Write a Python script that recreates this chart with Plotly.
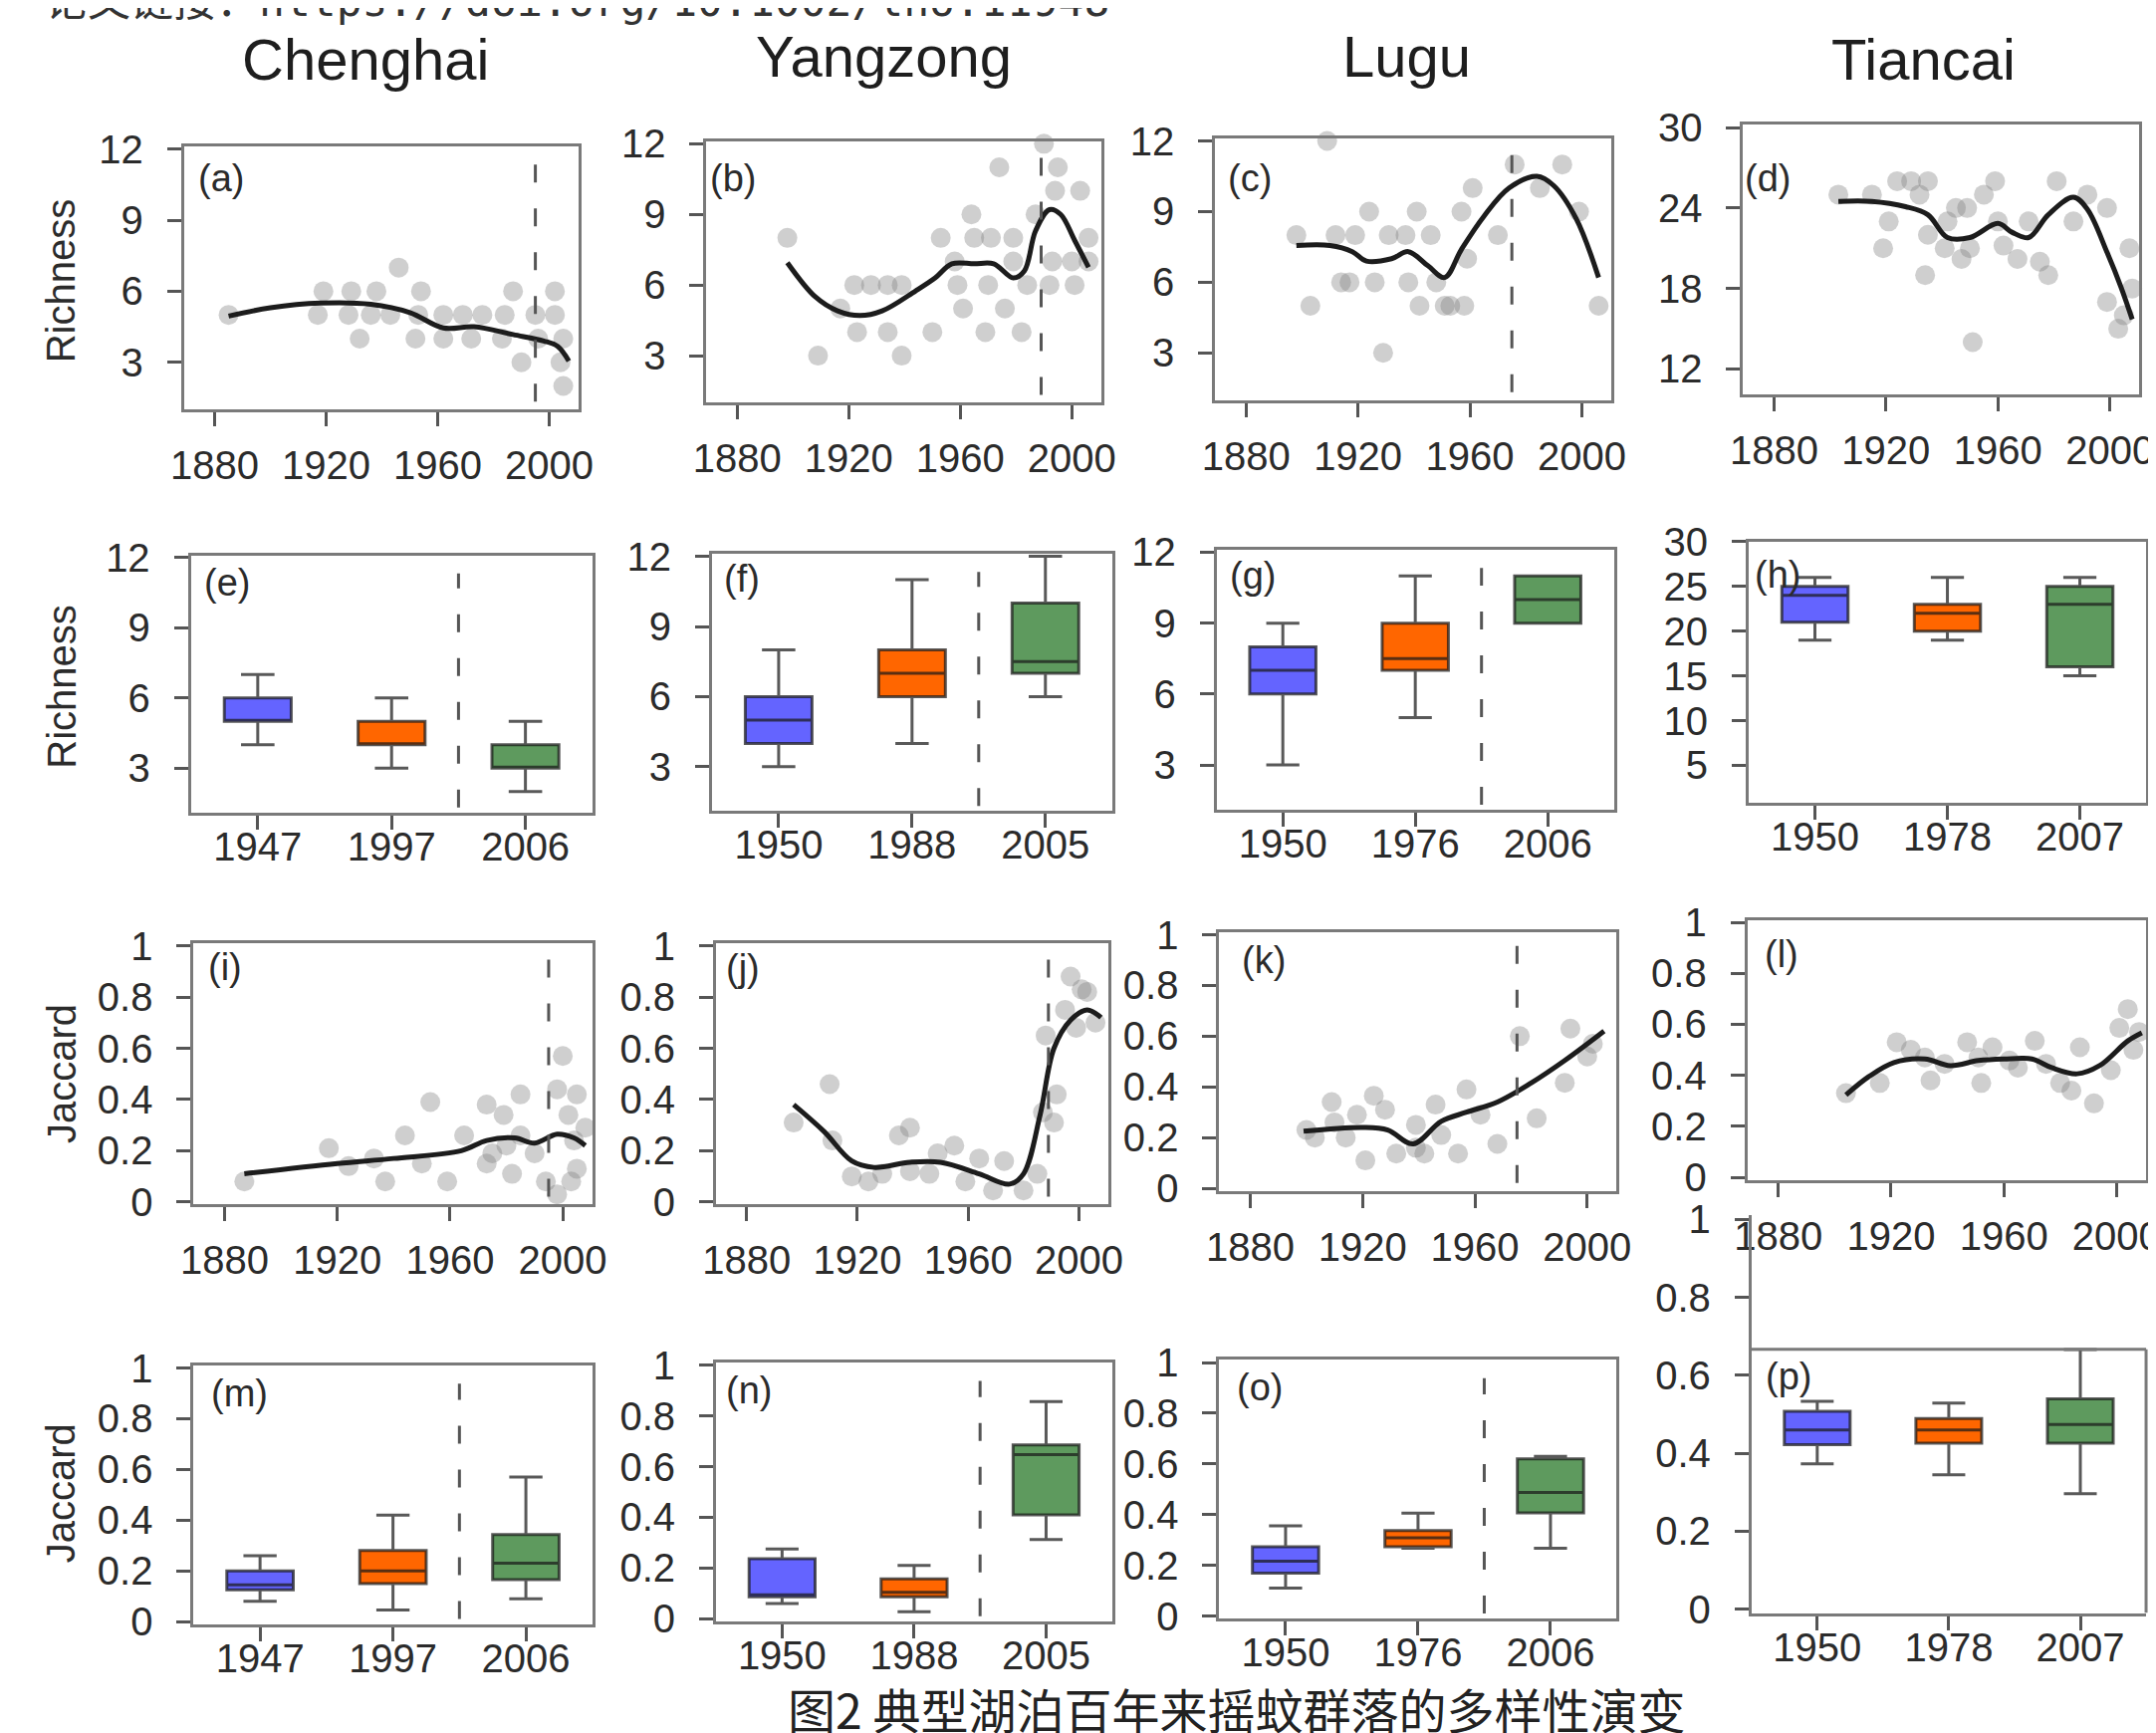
import plotly.graph_objects as go

# ---------------- DATA ----------------
lakes = ["Chenghai", "Yangzong", "Lugu", "Tiancai"]
time_ticks = [1880, 1920, 1960, 2000]
break_year = [1995, 1989, 1975, None]

# Richness through time (points)
a_year = [1885,1917,1919,1928,1929,1932,1936,1938,1943,1946,1952,1953,1954,1962,1962,1969,1972,1976,1983,1984,1987,1990,1995,1996,2002,2002,2004,2005,2005]
a_val  = [5,5,6,5,6,4,5,6,5,7,4,5,6,5,4,5,4,5,4,5,6,3,5,4,6,5,3,4,2]
a_fit_year = [1885,1900,1918,1936,1950,1962,1973,1987,1998,2003,2007]
a_fit      = [4.95,5.3,5.5,5.45,5.1,4.45,4.5,4.17,3.9,3.67,3.05]

b_year = [1898,1909,1917,1922,1923,1928,1934,1934,1939,1939,1950,1953,1958,1959,1961,1964,1965,1969,1970,1971,1974,1976,1979,1979,1982,1984,1987,1990,1992,1993,1994,1995,2000,2001,2003,2006,2006]
b_val  = [8,3,5,6,4,6,6,4,6,3,4,8,7,6,5,9,8,4,6,8,11,5,8,7,4,6,9,12,6,7,10,11,7,6,10,8,7]
b_fit_year = [1898,1908,1916,1924,1932,1944,1951,1957,1965,1972,1979,1983,1987,1992,1996,2001,2006]
b_fit      = [6.95,5.5,4.9,4.7,4.9,5.75,6.3,6.9,6.9,6.9,6.3,6.6,8.3,9.2,9.0,7.9,6.75]

c_year = [1898,1903,1909,1912,1914,1917,1919,1924,1926,1929,1931,1937,1938,1941,1942,1946,1948,1951,1953,1957,1958,1959,1961,1970,1976,1985,1993,1999,2006]
c_val  = [8,5,12,8,6,6,8,9,6,3,8,8,6,9,5,8,6,5,5,9,5,7,10,8,11,10,11,9,5]
c_fit_year = [1898,1910,1918,1923,1932,1938,1945,1951,1957,1965,1974,1984,1990,1998,2006]
c_fit      = [7.56,7.56,7.3,6.9,7.0,7.3,6.7,6.2,7.4,8.8,10.0,10.5,10.1,8.7,6.2]

d_year = [1903,1915,1919,1921,1924,1929,1932,1934,1935,1935,1941,1942,1945,1947,1949,1950,1951,1955,1959,1960,1962,1967,1971,1975,1978,1981,1987,1992,1999,1999,2003,2005,2007,2008]
d_val  = [25,25,21,23,26,26,25,19,26,22,21,23,24,20.2,24,21,14,25,26,23,21.2,20.2,23,20,19,26,23,25,24,17,15,16,21,18]
d_fit_year = [1903,1915,1927,1935,1942,1950,1960,1965,1971,1978,1987,1992,1999,2004,2008]
d_fit      = [24.5,24.5,24.1,23.5,21.8,21.8,22.85,22.2,21.8,23.5,24.8,23.9,20.7,18.1,15.7]

# Jaccard through time (points)
i_year = [1887,1917,1924,1933,1937,1944,1950,1953,1959,1965,1973,1973,1975,1979,1980,1982,1985,1985,1990,1994,1998,1998,2000,2002,2003,2004,2005,2005,2008]
i_val  = [0.08,0.21,0.14,0.17,0.08,0.26,0.15,0.39,0.08,0.26,0.38,0.15,0.19,0.34,0.22,0.11,0.42,0.26,0.19,0.08,0.44,0.03,0.57,0.34,0.08,0.24,0.42,0.13,0.29]
i_fit_year = [1887,1920,1940,1964,1973,1983,1990,1998,2004,2008]
i_fit      = [0.11,0.15,0.17,0.20,0.24,0.25,0.23,0.265,0.25,0.22]

j_year = [1897,1910,1911,1918,1924,1929,1935,1939,1939,1946,1949,1955,1959,1964,1969,1973,1980,1985,1987,1988,1991,1992,1995,1997,1999,2001,2003,2006]
j_val  = [0.31,0.46,0.24,0.10,0.08,0.11,0.26,0.29,0.12,0.11,0.19,0.22,0.08,0.17,0.045,0.16,0.045,0.11,0.35,0.65,0.31,0.42,0.75,0.88,0.68,0.83,0.82,0.70]
j_fit_year = [1897,1908,1918,1926,1939,1950,1964,1975,1980,1986,1991,1997,2003,2008]
j_fit      = [0.38,0.275,0.16,0.135,0.155,0.155,0.11,0.07,0.11,0.34,0.6,0.71,0.75,0.72]

k_year = [1900,1903,1909,1910,1914,1918,1921,1924,1928,1932,1939,1939,1942,1946,1948,1954,1957,1962,1968,1976,1982,1992,1994,2000,2002]
k_val  = [0.23,0.2,0.34,0.26,0.2,0.29,0.11,0.365,0.31,0.137,0.16,0.25,0.137,0.33,0.21,0.137,0.39,0.29,0.175,0.6,0.276,0.416,0.63,0.52,0.57]
k_fit_year = [1899,1920,1929,1938,1948,1957,1968,1980,1992,2006]
k_fit      = [0.225,0.24,0.23,0.175,0.264,0.30,0.34,0.415,0.504,0.62]

l_year = [1904,1916,1922,1927,1932,1934,1939,1947,1951,1952,1956,1962,1965,1971,1975,1980,1984,1987,1992,1998,2001,2004,2006,2008]
l_val  = [0.33,0.37,0.53,0.5,0.47,0.38,0.445,0.53,0.47,0.37,0.51,0.458,0.43,0.535,0.445,0.37,0.34,0.51,0.29,0.42,0.586,0.66,0.5,0.57]
l_fit_year = [1904,1912,1921,1932,1941,1951,1960,1970,1977,1986,1994,2004,2009]
l_fit      = [0.323,0.394,0.45,0.464,0.438,0.458,0.464,0.464,0.43,0.406,0.438,0.535,0.567]

# Boxplot periods and statistics
e_cat = ["1947", "1997", "2006"]
e_low = [4, 3, 2];  e_q1 = [5, 4, 3];  e_med = [5, 4, 3];  e_q3 = [6, 5, 4];  e_high = [7, 6, 5]
f_cat = ["1950", "1988", "2005"]
f_low = [3, 4, 6];  f_q1 = [4, 6, 7];  f_med = [5, 7, 7.5];  f_q3 = [6, 8, 10];  f_high = [8, 11, 12]
g_cat = ["1950", "1976", "2006"]
g_low = [3, 5, 9];  g_q1 = [6, 7, 9];  g_med = [7, 7.5, 10];  g_q3 = [8, 9, 11];  g_high = [9, 11, 11]
h_cat = ["1950", "1978", "2007"]
h_low = [19, 19, 15];  h_q1 = [21, 20, 16];  h_med = [24, 22, 23];  h_q3 = [25, 23, 25];  h_high = [26, 26, 26]

m_cat = ["1947", "1997", "2006"]
m_low = [0.08, 0.045, 0.09];  m_q1 = [0.125, 0.15, 0.165];  m_med = [0.145, 0.2, 0.23];  m_q3 = [0.2, 0.28, 0.343];  m_high = [0.26, 0.42, 0.57]
n_cat = ["1950", "1988", "2005"]
n_low = [0.06, 0.028, 0.313];  n_q1 = [0.087, 0.087, 0.41];  n_med = [0.095, 0.104, 0.648];  n_q3 = [0.237, 0.157, 0.686];  n_high = [0.275, 0.21, 0.857]
o_cat = ["1950", "1976", "2006"]
o_low = [0.11, 0.267, 0.267];  o_q1 = [0.169, 0.273, 0.407];  o_med = [0.216, 0.309, 0.487];  o_q3 = [0.273, 0.337, 0.62];  o_high = [0.356, 0.406, 0.63]
p_cat = ["1950", "1978", "2007"]
p_low = [0.373, 0.345, 0.296];  p_q1 = [0.422, 0.426, 0.426];  p_med = [0.46, 0.46, 0.474];  p_q3 = [0.508, 0.489, 0.54];  p_high = [0.533, 0.529, 0.666]
p_frame_top = 0.667

richness_ticks = [3, 6, 9, 12]
tiancai_rich_ticks = [12, 18, 24, 30]
tiancai_box_ticks = [5, 10, 15, 20, 25, 30]
jaccard_ticks = [0, 0.2, 0.4, 0.6, 0.8, 1]
jaccard_text = ["0", "0.2", "0.4", "0.6", "0.8", "1"]

# ---------------- STYLE / LAYOUT ----------------
W, H = 2165, 1740
SW, SH = 1568.0, 1260.0
FONT = "Liberation Sans, Arial, sans-serif"
TICKF = 40
BOX_COLORS = ["#6464FF", "#FF6600", "#5E9A5E"]
PT_COLOR = "rgba(130,130,130,0.38)"
LINE_GRAY = "#7a7a7a"

time_data = {
    "a": (a_year, a_val, a_fit_year, a_fit), "b": (b_year, b_val, b_fit_year, b_fit),
    "c": (c_year, c_val, c_fit_year, c_fit), "d": (d_year, d_val, d_fit_year, d_fit),
    "i": (i_year, i_val, i_fit_year, i_fit), "j": (j_year, j_val, j_fit_year, j_fit),
    "k": (k_year, k_val, k_fit_year, k_fit), "l": (l_year, l_val, l_fit_year, l_fit),
}
box_data = {
    "e": (e_cat, e_low, e_q1, e_med, e_q3, e_high), "f": (f_cat, f_low, f_q1, f_med, f_q3, f_high),
    "g": (g_cat, g_low, g_q1, g_med, g_q3, g_high), "h": (h_cat, h_low, h_q1, h_med, h_q3, h_high),
    "m": (m_cat, m_low, m_q1, m_med, m_q3, m_high), "n": (n_cat, n_low, n_q1, n_med, n_q3, n_high),
    "o": (o_cat, o_low, o_q1, o_med, o_q3, o_high), "p": (p_cat, p_low, p_q1, p_med, p_q3, p_high),
}

# panel frames in reference (1568x1260) pixel space: x0, y0, x1, y1 ; label position
panels = [
    dict(k="a", col=0, frame=(128, 101, 415, 292), yr=(1.0, 12.1), yt=richness_ticks, lab=(137, 124)),
    dict(k="b", col=1, frame=(508, 97, 795, 287), yr=(1.0, 12.1), yt=richness_ticks, lab=(509, 124)),
    dict(k="c", col=2, frame=(878, 95, 1166, 285), yr=(1.0, 12.1), yt=richness_ticks, lab=(886, 124)),
    dict(k="d", col=3, frame=(1262, 85, 1550, 281), yr=(10.1, 30.2), yt=tiancai_rich_ticks, lab=(1262, 124)),
    dict(k="e", col=0, frame=(133, 398, 425, 585), yr=(1.1, 12.1), yt=richness_ticks, lab=(141, 418)),
    dict(k="f", col=1, frame=(512, 397, 803, 584), yr=(1.1, 12.1), yt=richness_ticks, lab=(519, 415)),
    dict(k="g", col=2, frame=(879, 394, 1168, 583), yr=(1.1, 12.1), yt=richness_ticks, lab=(887, 413)),
    dict(k="h", col=3, frame=(1266, 388, 1555, 578), yr=(0.8, 30.0), yt=tiancai_box_ticks, lab=(1269, 412)),
    dict(k="i", col=0, frame=(135, 680, 425, 870), yr=(-0.01, 1.01), yt=jaccard_ticks, lab=(144, 697)),
    dict(k="j", col=1, frame=(515, 680, 800, 870), yr=(-0.01, 1.01), yt=jaccard_ticks, lab=(521, 698)),
    dict(k="k", col=2, frame=(881, 672, 1170, 860), yr=(-0.01, 1.01), yt=jaccard_ticks, lab=(896, 692)),
    dict(k="l", col=3, frame=(1265, 663, 1555, 852), yr=(-0.01, 1.01), yt=jaccard_ticks, lab=(1276, 688)),
    dict(k="m", col=0, frame=(135, 987, 425, 1175), yr=(-0.01, 1.01), yt=jaccard_ticks, lab=(146, 1007)),
    dict(k="n", col=1, frame=(515, 985, 803, 1173), yr=(-0.01, 1.01), yt=jaccard_ticks, lab=(521, 1005)),
    dict(k="o", col=2, frame=(881, 983, 1170, 1171), yr=(-0.01, 1.01), yt=jaccard_ticks, lab=(892, 1003)),
    dict(k="p", col=3, frame=(1268, 878, 1555, 1167), yr=(-0.01, 1.01), yt=jaccard_ticks, lab=(1277, 995)),
]

fig = go.Figure()
layout = dict(
    width=W, height=H, margin=dict(l=0, r=0, t=0, b=0, pad=0, autoexpand=False),
    paper_bgcolor="white", plot_bgcolor="white", showlegend=False,
    boxmode="overlay", font=dict(family=FONT, color="#2b2b2b"),
)
shapes, annotations = [], []

for n, p in enumerate(panels, start=1):
    sfx = "" if n == 1 else str(n)
    xa, ya = "x" + sfx, "y" + sfx
    x0, y0, x1, y1 = p["frame"]
    is_time = p["k"] in time_data
    is_p = p["k"] == "p"
    common = dict(showgrid=False, zeroline=False, showline=True, linecolor=LINE_GRAY, linewidth=3,
                  mirror=not is_p, ticks="outside", ticklen=14, tickwidth=3, tickcolor="#555",
                  automargin=False,
                  tickfont=dict(size=TICKF, family=FONT, color="#2b2b2b"))
    if is_time:
        xcfg = dict(range=[1869, 2010.5], tickvals=time_ticks, ticktext=[str(t) for t in time_ticks],
                    ticklabelstandoff=5)
    else:
        cats = box_data[p["k"]][0]
        xcfg = dict(range=[0.5, 3.5], tickvals=[1, 2, 3], ticktext=cats, ticklabelstandoff=-17)
    layout["xaxis" + sfx] = dict(domain=[x0 / SW, x1 / SW], anchor=ya, **xcfg, **common)
    if p["yt"] is jaccard_ticks:
        ycfg = dict(tickvals=jaccard_ticks, ticktext=jaccard_text)
    else:
        ycfg = dict(tickvals=p["yt"], ticktext=[str(t) for t in p["yt"]])
    layout["yaxis" + sfx] = dict(domain=[1 - y1 / SH, 1 - y0 / SH], anchor=xa, range=list(p["yr"]),
                                 ticklabelstandoff=16, **ycfg, **common)

    if is_time:
        yrs, vals, fy, fv = time_data[p["k"]]
        fig.add_trace(go.Scatter(x=yrs, y=vals, mode="markers", xaxis=xa, yaxis=ya,
                                 marker=dict(size=20, color=PT_COLOR, line=dict(width=0)),
                                 cliponaxis=False))
        fig.add_trace(go.Scatter(x=fy, y=fv, mode="lines", xaxis=xa, yaxis=ya,
                                 line=dict(color="#1c1c1c", width=5, shape="spline", smoothing=1.0)))
        by = break_year[p["col"]]
        if by is not None:
            shapes.append(dict(type="line", xref=xa, yref=ya + " domain", x0=by, x1=by, y0=0.03, y1=0.95,
                               line=dict(color="#555", width=3, dash="18px,26px"), layer="above"))
    else:
        cats, lo, q1, md, q3, hi = box_data[p["k"]]
        for idx in range(3):
            fig.add_trace(go.Box(x=[idx + 1], lowerfence=[lo[idx]], q1=[q1[idx]], median=[md[idx]],
                                 q3=[q3[idx]], upperfence=[hi[idx]], orientation="v",
                                 xaxis=xa, yaxis=ya, width=0.5, whiskerwidth=0.5, boxpoints=False,
                                 fillcolor=BOX_COLORS[idx],
                                 line=dict(color="rgba(25,25,25,0.72)", width=3)))
        if p["col"] != 3:
            shapes.append(dict(type="line", xref=xa, yref=ya + " domain", x0=2.5, x1=2.5, y0=0.02, y1=0.93,
                               line=dict(color="#555", width=3, dash="18px,26px"), layer="above"))
    if is_p:
        shapes.append(dict(type="line", xref=xa + " domain", yref=ya, x0=0, x1=1, y0=p_frame_top, y1=p_frame_top,
                           line=dict(color=LINE_GRAY, width=3)))
        shapes.append(dict(type="line", xref=xa + " domain", yref=ya, x0=1, x1=1, y0=p["yr"][0], y1=p_frame_top,
                           line=dict(color=LINE_GRAY, width=3)))

    lx, ly = p["lab"]
    annotations.append(dict(text="(" + p["k"] + ")", xref="paper", yref="paper", x=lx / SW, y=1 - ly / SH,
                            xanchor="left", yanchor="middle", showarrow=False,
                            font=dict(size=38, family=FONT, color="#2b2b2b")))

# column titles
for name, cx, cy in zip(lakes, [260, 637, 1017, 1393], [37, 35, 35, 37]):
    annotations.append(dict(text=name, xref="paper", yref="paper", x=cx / SW, y=1 - cy / SH,
                            xanchor="center", yanchor="middle", showarrow=False,
                            font=dict(size=58, family=FONT, color="#1e1e1e")))
# y-axis titles
for t, cy in zip(["Richness", "Richness", "Jaccard", "Jaccard"], [198, 493, 775, 1080]):
    annotations.append(dict(text=t, xref="paper", yref="paper", x=39 / SW, y=1 - cy / SH, textangle=-90,
                            xanchor="center", yanchor="middle", showarrow=False,
                            font=dict(size=40, family=FONT, color="#2b2b2b")))
# caption & cut-off link text
annotations.append(dict(text="图2 典型湖泊百年来摇蚊群落的多样性演变", xref="paper", yref="paper",
                        x=893 / SW, y=1 - 1236 / SH, xanchor="center", yanchor="middle", showarrow=False,
                        font=dict(size=48, family="Noto Sans CJK SC", color="#222")))
annotations.append(dict(text="论文链接：https://doi.org/10.1002/lno.11948", xref="paper", yref="paper",
                        x=25 / SW, y=1.004, xanchor="left", yanchor="middle", showarrow=False,
                        font=dict(size=43, family="DejaVu Sans Mono, Noto Sans CJK SC", color="#333")))

layout["shapes"] = shapes
layout["annotations"] = annotations
fig.update_layout(**layout)
fig.write_html("out.html")
